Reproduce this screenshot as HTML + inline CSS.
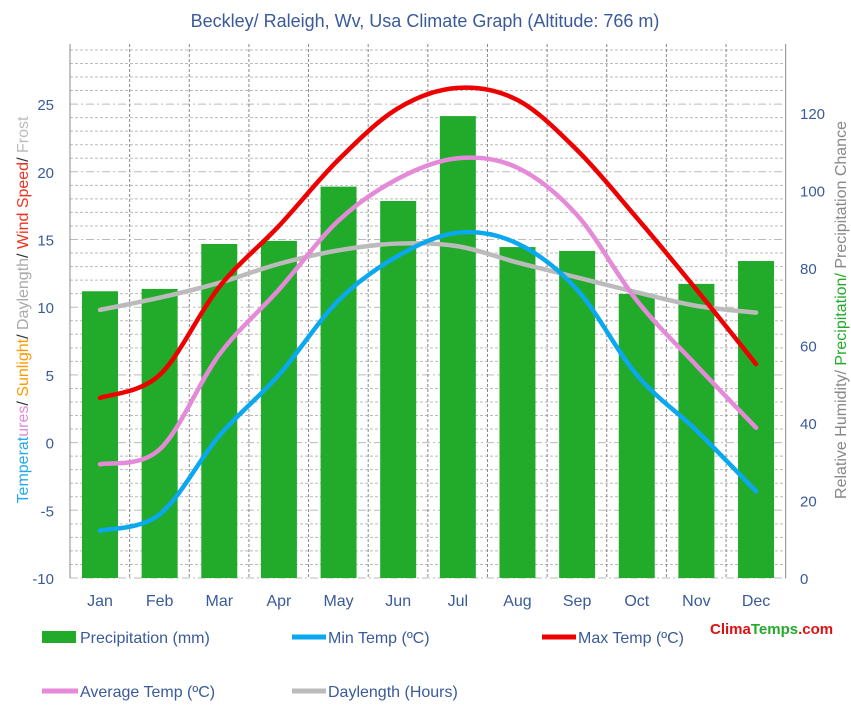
<!DOCTYPE html>
<html><head><meta charset="utf-8"><style>
body{margin:0;background:#fff;}
svg{display:block;font-family:"Liberation Sans",sans-serif;}
</style></head><body>
<svg id="chart" width="851" height="719"></svg>
<script>
const months=["Jan","Feb","Mar","Apr","May","Jun","Jul","Aug","Sep","Oct","Nov","Dec"];
const precip=[74,74.6,86.2,87,101,97.3,119.2,85.4,84.4,73.3,75.9,81.8];
const maxTemp=[3.3,5.0,11.5,16,20.9,24.7,26.2,25.3,21.6,16.6,11.3,5.8];
const minTemp=[-6.5,-5.3,0.5,5,10.5,13.8,15.5,14.7,11.3,5,0.9,-3.6];
const avgTemp=[-1.6,-0.5,6.5,11.3,16.4,19.5,21,20.3,16.8,10.5,5.7,1.1];
const daylength=[9.8,10.7,11.8,13.2,14.2,14.7,14.5,13.3,12.2,11.1,10.1,9.6];
const leftTicks=[-10,-5,0,5,10,15,20,25];
const rightTicks=[0,20,40,60,80,100,120];

const svg=document.getElementById('chart');
const NS='http://www.w3.org/2000/svg';
function mk(t,a,p){const e=document.createElementNS(NS,t);for(const k in a)e.setAttribute(k,a[k]);(p||svg).appendChild(e);return e;}
const X0=70,X1=786,YT=44,YB=578;
const xs=i=>100+i*59.64;
const yL=v=>442.6-v*13.54;
const yR=v=>578-v*3.875;

// grid
for(let v=-10;v<=29;v++){
  const l=mk('line',{x1:X0,x2:X1,y1:yL(v),y2:yL(v),stroke:'#bbb','stroke-width':1,'stroke-dasharray':v%5==0?'8,3,2,3':'3,2'});
  
}
for(let i=0;i<=12;i++){
  const x=X0+i*59.64;
  const l=mk('line',{x1:x,x2:x,y1:YT,y2:YB,stroke:'#888','stroke-width':1,'stroke-dasharray':i==0||i==12?'':'3,2'});
  
}
// bars
precip.forEach((p,i)=>{
  const r=mk('rect',{x:xs(i)-18,y:yR(p),width:36,height:YB-yR(p),fill:'#22aa2a'});
  
});
function curve(vals,color,name){
  const pts=vals.map((v,i)=>[xs(i),yL(v)]);
  let d='M'+pts[0][0]+','+pts[0][1];
  for(let i=0;i<pts.length-1;i++){
    const p0=pts[Math.max(0,i-1)],p1=pts[i],p2=pts[i+1],p3=pts[Math.min(pts.length-1,i+2)];
    const c1=[p1[0]+(p2[0]-p0[0])/6,p1[1]+(p2[1]-p0[1])/6];
    const c2=[p2[0]-(p3[0]-p1[0])/6,p2[1]-(p3[1]-p1[1])/6];
    d+=` C${c1[0]},${c1[1]} ${c2[0]},${c2[1]} ${p2[0]},${p2[1]}`;
  }
  const e=mk('path',{d,fill:'none',stroke:color,'stroke-width':4.5,'stroke-linecap':'round'});
  
}
curve(daylength,'#bbbbbb','daylength-line');
curve(avgTemp,'#e58ad8','avg-temp-line');
curve(minTemp,'#0aa8ee','min-temp-line');
curve(maxTemp,'#ee0000','max-temp-line');
// axes ticks
leftTicks.forEach(v=>{
  const t=mk('text',{x:54,y:yL(v)+6,'text-anchor':'end','font-size':15,fill:'#3a5a9a'});t.textContent=v;
  
});
rightTicks.forEach(v=>{
  const t=mk('text',{x:800,y:yR(v)+6,'font-size':15,fill:'#3a5a9a'});t.textContent=v;
  
});
months.forEach((m,i)=>{
  const t=mk('text',{x:xs(i),y:606,'text-anchor':'middle','font-size':16,fill:'#3a5a9a'});t.textContent=m;
  
});
</script>
<svg style="position:absolute;left:0;top:0" width="851" height="719">
<text x="425" y="27" text-anchor="middle" font-size="18" fill="#3a5a9a" font-family="Liberation Sans">Beckley/ Raleigh, Wv, Usa Climate Graph (Altitude: 766 m)</text>
<text transform="translate(28,310) rotate(-90)" text-anchor="middle" font-size="16" font-family="Liberation Sans"><tspan fill="#22aaee">Temperat</tspan><tspan fill="#e58ad8">ures</tspan><tspan fill="#333">/ </tspan><tspan fill="#ff9900">Sunlight</tspan><tspan fill="#333">/ </tspan><tspan fill="#aaa">Daylength</tspan><tspan fill="#333">/ </tspan><tspan fill="#ee3322">Wind Speed</tspan><tspan fill="#333">/ </tspan><tspan fill="#bbb">Frost</tspan></text>
<text transform="translate(846,310) rotate(-90)" text-anchor="middle" font-size="16" font-family="Liberation Sans"><tspan fill="#888">Relative Humidity/ </tspan><tspan fill="#22aa2a">Precipitation/ </tspan><tspan fill="#888">Precipitation Chance</tspan></text>
<g font-size="16" fill="#3a5a9a" font-family="Liberation Sans">
<rect x="42" y="631" width="34" height="12" fill="#22aa2a"/>
<text x="80" y="643">Precipitation (mm)</text>
<line x1="292" y1="637" x2="326" y2="637" stroke="#0aa8ee" stroke-width="5"/>
<text x="328" y="643">Min Temp (ºC)</text>
<line x1="542" y1="637" x2="576" y2="637" stroke="#ee0000" stroke-width="5"/>
<text x="578" y="643">Max Temp (ºC)</text>
<line x1="42" y1="691" x2="78" y2="691" stroke="#e58ad8" stroke-width="5"/>
<text x="80" y="697">Average Temp (ºC)</text>
<line x1="292" y1="691" x2="326" y2="691" stroke="#bbbbbb" stroke-width="5"/>
<text x="328" y="697">Daylength (Hours)</text>
</g>
<text x="710" y="634" font-size="15" font-weight="bold" font-family="Liberation Sans"><tspan fill="#dd1111">Clima</tspan><tspan fill="#22aa2a">Temps</tspan><tspan fill="#dd1111">.com</tspan></text>
</svg>
</body></html>
